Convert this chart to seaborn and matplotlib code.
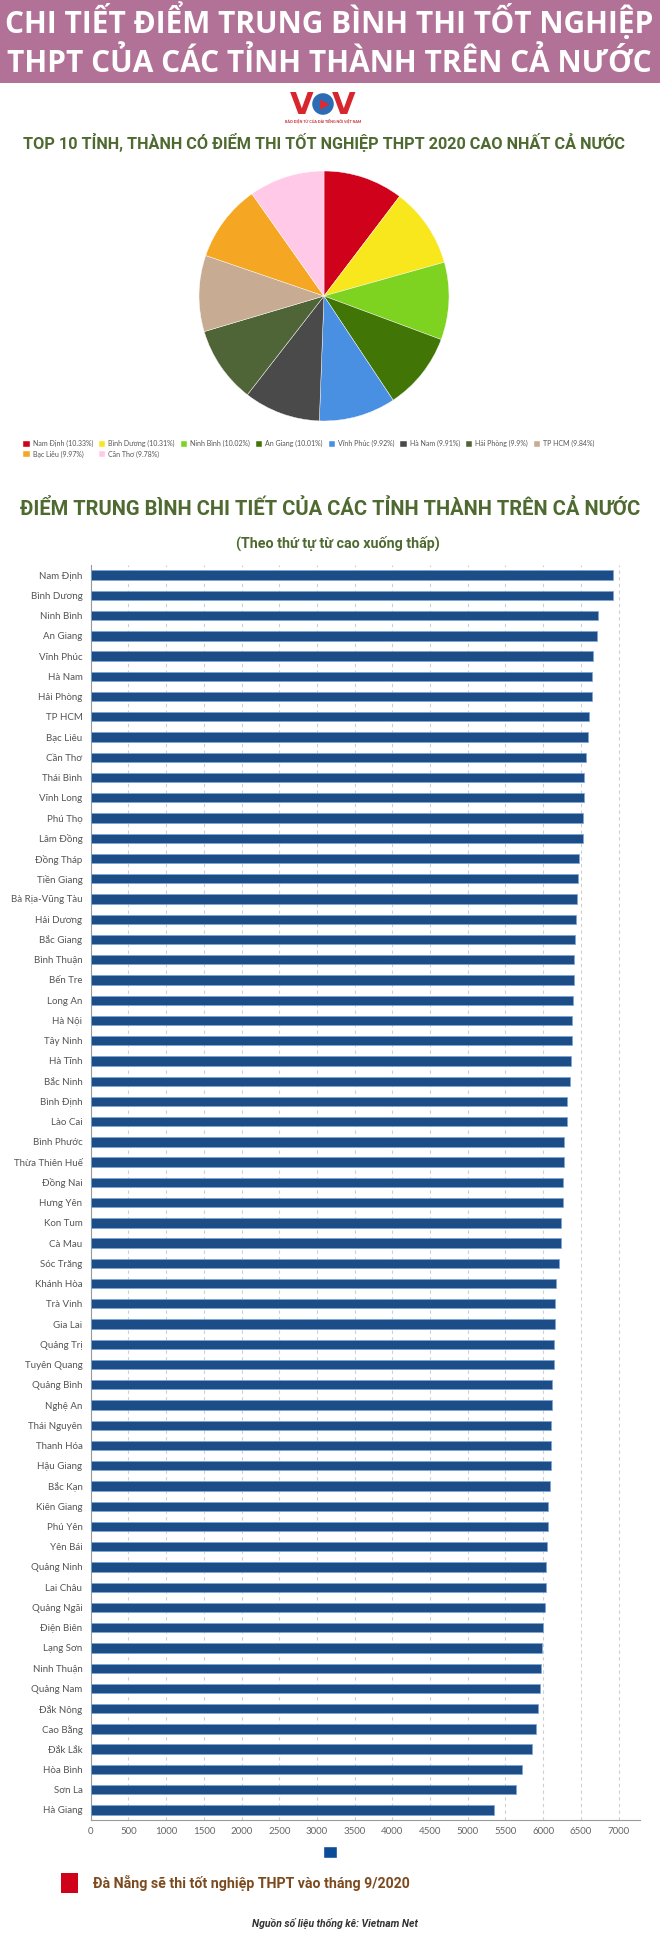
import matplotlib
matplotlib.use("Agg")
import matplotlib.pyplot as plt
from matplotlib.patches import Rectangle, Ellipse, Patch
import seaborn as sns
import pandas as pd

# ---------------- data ----------------
pie_provinces = ["Nam Định", "Bình Dương", "Ninh Bình", "An Giang", "Vĩnh Phúc",
                 "Hà Nam", "Hải Phòng", "TP HCM", "Bạc Liêu", "Cần Thơ"]
pie_percent = [10.33, 10.31, 10.02, 10.01, 9.92, 9.91, 9.9, 9.84, 9.97, 9.78]
pie_colors = ["#d0021b", "#f8e71c", "#7ed321", "#417505", "#4a90e2",
              "#4a4a4a", "#4f6437", "#c8ab93", "#f5a623", "#ffc9e7"]

provinces = ["Nam Định", "Bình Dương", "Ninh Bình", "An Giang", "Vĩnh Phúc", "Hà Nam",
             "Hải Phòng", "TP HCM", "Bạc Liêu", "Cần Thơ", "Thái Bình", "Vĩnh Long",
             "Phú Thọ", "Lâm Đồng", "Đồng Tháp", "Tiền Giang", "Bà Rịa-Vũng Tàu",
             "Hải Dương", "Bắc Giang", "Bình Thuận", "Bến Tre", "Long An", "Hà Nội",
             "Tây Ninh", "Hà Tĩnh", "Bắc Ninh", "Bình Định", "Lào Cai", "Bình Phước",
             "Thừa Thiên Huế", "Đồng Nai", "Hưng Yên", "Kon Tum", "Cà Mau", "Sóc Trăng",
             "Khánh Hòa", "Trà Vinh", "Gia Lai", "Quảng Trị", "Tuyên Quang", "Quảng Bình",
             "Nghệ An", "Thái Nguyên", "Thanh Hóa", "Hậu Giang", "Bắc Kạn", "Kiên Giang",
             "Phú Yên", "Yên Bái", "Quảng Ninh", "Lai Châu", "Quảng Ngãi", "Điện Biên",
             "Lạng Sơn", "Ninh Thuận", "Quảng Nam", "Đắk Nông", "Cao Bằng", "Đắk Lắk",
             "Hòa Bình", "Sơn La", "Hà Giang"]
scores = [6929, 6920, 6722, 6712, 6655, 6650, 6642, 6606, 6589, 6562, 6544, 6540,
          6527, 6527, 6478, 6465, 6443, 6438, 6421, 6412, 6412, 6394, 6386, 6377,
          6368, 6355, 6311, 6311, 6280, 6275, 6262, 6262, 6240, 6231, 6209, 6173,
          6160, 6152, 6139, 6139, 6120, 6120, 6107, 6099, 6099, 6090, 6070, 6063,
          6051, 6035, 6035, 6030, 5996, 5990, 5968, 5962, 5934, 5901, 5845, 5722,
          5638, 5354]
x_ticks = [0, 500, 1000, 1500, 2000, 2500, 3000, 3500, 4000, 4500, 5000, 5500, 6000, 6500, 7000]

header_lines = ["CHI TIẾT ĐIỂM TRUNG BÌNH THI TỐT NGHIỆP", "THPT CỦA CÁC TỈNH THÀNH TRÊN CẢ NƯỚC"]
pie_title = "TOP 10 TỈNH, THÀNH CÓ ĐIỂM THI TỐT NGHIỆP THPT 2020 CAO NHẤT CẢ NƯỚC"
bar_title = "ĐIỂM TRUNG BÌNH CHI TIẾT CỦA CÁC TỈNH THÀNH TRÊN CẢ NƯỚC"
bar_subtitle = "(Theo thứ tự từ cao xuống thấp)"
note_text = "Đà Nẵng sẽ thi tốt nghiệp THPT vào tháng 9/2020"
source_text = "Nguồn số liệu thống kê: Vietnam Net"

# ---------------- layout helpers ----------------
W, H = 660, 1943
def fx(x): return x / W
def fy(y): return 1 - y / H

sns.set_theme(style="white")
plt.rcParams["font.family"] = ["Lato", "DejaVu Sans"]

fig = plt.figure(figsize=(W / 100, H / 100), dpi=100)
fig.patch.set_facecolor("white")

NARROW = ["Roboto", "DejaVu Sans"]
GREEN = "#4e6a30"

# header band
fig.patches.append(Rectangle((0, fy(83)), 1, 83 / H, transform=fig.transFigure,
                             facecolor="#b27297", edgecolor="none", zorder=0))
fig.text(fx(329), fy(33), header_lines[0], ha="center", va="baseline", color="white",
         fontsize=21.5, fontweight="bold", family=["Open Sans", "DejaVu Sans"])
fig.text(fx(329), fy(72), header_lines[1], ha="center", va="baseline", color="white",
         fontsize=21.5, fontweight="bold", family=["Open Sans", "DejaVu Sans"])

# VOV logo
fig.text(fx(302), fy(105), "V", ha="center", va="center", color="#d7262e",
         fontsize=22, fontweight="bold", family=["DejaVu Sans"])
fig.text(fx(344), fy(105), "V", ha="center", va="center", color="#d7262e",
         fontsize=22, fontweight="bold", family=["DejaVu Sans"])
fig.patches.append(Ellipse((fx(323), fy(104)), 23 / W, 23 / H, transform=fig.transFigure,
                           facecolor="#2d6cb5", edgecolor="white", linewidth=1.0, zorder=3))
fig.text(fx(324.5), fy(104), "▶", ha="center", va="center", color="#e0282f",
         fontsize=9, family=["DejaVu Sans"], zorder=4)
fig.text(fx(323), fy(122), "BÁO ĐIỆN TỬ CỦA ĐÀI TIẾNG NÓI VIỆT NAM", ha="center",
         va="center", color="#c0272d", fontsize=2.6, fontweight="bold")

# pie title
fig.text(fx(324), fy(143), pie_title, ha="center", va="center", color=GREEN,
         fontsize=11.7, fontweight="bold", family=NARROW)

# ---------------- pie ----------------
ax_pie = fig.add_axes([fx(199), fy(421), 250 / W, 250 / H])
wedges, _ = ax_pie.pie(pie_percent, colors=pie_colors, startangle=90, counterclock=False,
                       wedgeprops=dict(edgecolor="white", linewidth=0.3))
ax_pie.set_aspect("equal")
ax_pie.set_xlim(-1, 1)
ax_pie.set_ylim(-1, 1)
ax_pie.axis("off")

legend_labels = [f"{p} ({v:g}%)" for p, v in zip(pie_provinces, pie_percent)]
# legend fills column-major; reorder so it reads row by row (8 per row)
order = [0, 8, 1, 9, 2, 3, 4, 5, 6, 7]
fig.legend([wedges[i] for i in order], [legend_labels[i] for i in order], ncol=8,
           loc="upper left", bbox_to_anchor=(fx(17), fy(434)), frameon=False, fontsize=5.0,
           handlelength=0.9, handleheight=0.9, handletextpad=0.45,
           columnspacing=0.85, labelspacing=0.45, labelcolor="#555555")

# bar titles
fig.text(fx(330), fy(509), bar_title, ha="center", va="center", color=GREEN,
         fontsize=14.5, fontweight="bold", family=NARROW)
fig.text(fx(338), fy(543), bar_subtitle, ha="center", va="center", color=GREEN,
         fontsize=10.3, fontweight="bold", family=NARROW)

# ---------------- bars ----------------
df = pd.DataFrame({"province": provinces, "score": scores})
ax = fig.add_axes([fx(90.8), fy(1820), (639.7 - 90.8) / W, (1820 - 565) / H])
sns.barplot(data=df, x="score", y="province", orient="h", color="#0c4b98",
            width=0.46, edgecolor="#7aa6dc", linewidth=0.5, ax=ax, zorder=3)
ax.set_xlim(0, 7280)
ax.set_ylim(len(provinces) - 0.5, -0.5)
ax.set_xticks(x_ticks)
ax.set_xticklabels([str(t) for t in x_ticks])
ax.set_xlabel("")
ax.set_ylabel("")
ax.grid(axis="x", color="#cfcfcf", linestyle=(0, (3, 3)), linewidth=0.8, zorder=0)
ax.grid(axis="y", visible=False)
for s in ["top", "right"]:
    ax.spines[s].set_visible(False)
for s in ["left", "bottom"]:
    ax.spines[s].set_visible(True)
    ax.spines[s].set_color("#9a9a9a")
    ax.spines[s].set_linewidth(0.8)
ax.tick_params(axis="y", length=0, pad=6, labelsize=7, labelcolor="#555555")
ax.tick_params(axis="x", length=0, pad=5, labelsize=7, labelcolor="#666666")
ax.set_facecolor("white")

# bar legend marker (empty label)
fig.legend([Patch(facecolor="#0c4b98")], [""], loc="center",
           bbox_to_anchor=(fx(330), fy(1853)), frameon=False,
           handlelength=0.9, handleheight=0.9, handletextpad=0)

# note
fig.patches.append(Rectangle((fx(61), fy(1893)), 17 / W, 20 / H, transform=fig.transFigure,
                             facecolor="#d0021b", edgecolor="none"))
fig.text(fx(93), fy(1883), note_text, ha="left", va="center", color="#7d4a1e",
         fontsize=10.2, fontweight="bold", family=NARROW)

# source
fig.text(fx(335), fy(1923), source_text, ha="center", va="center", color="#333333",
         fontsize=7.5, fontstyle="italic", fontweight="bold", family=["Roboto", "DejaVu Sans"])

fig.savefig("out.png", dpi=100, facecolor="white")
